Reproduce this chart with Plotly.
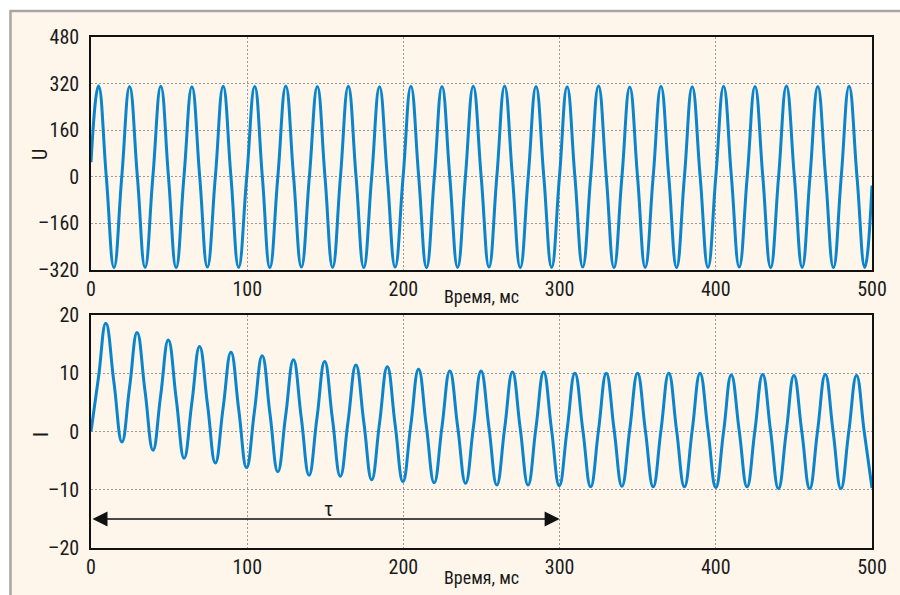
import plotly.graph_objects as go

# ---------------- data ----------------
# Voltage U (top panel): start/end points, peaks, troughs, zero crossings (time in ms)
U_start = (0.0, 50)
U_end = (500.0, -30)
U_peak_t = [4.8, 24.7, 44.7, 64.6, 84.6, 104.8, 124.7, 144.9, 164.7, 184.7, 204.8, 224.7, 244.7,
            264.8, 284.9, 304.8, 324.9, 344.9, 364.9, 384.9, 405.0, 425.1, 445.2, 465.3, 485.3]
U_peak_v = [312, 310, 311, 309, 311, 310, 312, 310, 311, 309, 311, 310, 311,
            312, 310, 309, 312, 308, 311, 309, 311, 310, 312, 310, 311]
U_trough_t = [14.7, 34.6, 54.5, 74.5, 94.5, 114.5, 134.7, 154.7, 174.6, 194.7, 214.8, 234.7, 254.8,
              274.8, 294.9, 314.8, 334.8, 354.8, 374.9, 395.0, 415.0, 435.1, 455.3, 475.3, 495.4]
U_trough_v = [-312, -311, -312, -310, -311, -312, -310, -311, -312, -310, -312, -311, -310,
              -312, -311, -310, -312, -311, -312, -311, -310, -312, -311, -312, -311]
U_cross_t = [9.8, 19.7, 29.7, 39.6, 49.6, 59.5, 69.6, 79.6, 89.6, 99.7,
             109.7, 119.6, 129.7, 139.8, 149.8, 159.7, 169.7, 179.7, 189.7, 199.8,
             209.8, 219.8, 229.7, 239.7, 249.8, 259.8, 269.8, 279.9, 289.9, 299.9,
             309.8, 319.9, 329.9, 339.9, 349.9, 359.9, 369.9, 379.9, 390.0, 400.0,
             410.0, 420.1, 430.1, 440.2, 450.3, 460.3, 470.3, 480.3, 490.4]
U_cross_v = [0] * len(U_cross_t)

# Current I (bottom panel): decaying offset
I_start = (0.0, 0.0)
I_end = (500.0, -9.7)
I_peak_t = [9.5, 29.5, 49.5, 69.5, 89.6, 109.6, 129.6, 149.6, 169.6, 189.7, 209.7, 229.7, 249.7,
            269.8, 289.8, 309.8, 329.9, 349.9, 369.9, 389.9, 409.9, 430.0, 450.0, 470.1, 490.1]
I_peak_v = [18.6, 17.0, 15.7, 14.6, 13.6, 13.0, 12.3, 12.0, 11.4, 11.1, 10.7, 10.4, 10.4,
            10.2, 10.2, 10.0, 10.0, 10.0, 10.0, 10.0, 9.7, 9.8, 9.6, 9.8, 9.6]
I_trough_t = [19.8, 39.7, 59.6, 79.6, 99.6, 119.6, 139.6, 159.6, 179.7, 199.7, 219.7, 239.8,
              259.8, 279.8, 299.8, 319.9, 339.9, 359.9, 379.9, 400.0, 420.0, 440.1, 460.1, 480.1]
I_trough_v = [-1.8, -3.2, -4.6, -5.4, -6.2, -6.9, -7.5, -7.7, -8.3, -8.6, -8.8, -8.9,
              -9.2, -9.2, -9.3, -9.5, -9.4, -9.5, -9.5, -9.6, -9.5, -9.8, -9.8, -9.8]
I_mid_t = [4.8, 14.7, 24.7, 34.6, 44.6, 54.6, 64.6, 74.6, 84.6, 94.6,
           104.6, 114.6, 124.6, 134.6, 144.6, 154.6, 164.6, 174.7, 184.7, 194.7,
           204.7, 214.7, 224.7, 234.8, 244.8, 254.8, 264.8, 274.8, 284.8, 294.8,
           304.8, 314.9, 324.9, 334.9, 344.9, 354.9, 364.9, 374.9, 384.9, 395.0,
           405.0, 415.0, 425.0, 435.1, 445.1, 455.1, 465.1, 475.1, 485.1, 495.0]
I_mid_v = [9.3, 8.4, 7.6, 6.9, 6.2, 5.5, 5.0, 4.6, 4.1, 3.7,
           3.4, 3.0, 2.7, 2.4, 2.2, 2.1, 1.8, 1.5, 1.4, 1.2,
           1.0, 0.9, 0.8, 0.7, 0.7, 0.6, 0.5, 0.5, 0.5, 0.4,
           0.3, 0.2, 0.2, 0.3, 0.3, 0.2, 0.2, 0.2, 0.2, 0.2,
           0.0, 0.1, 0.1, 0.0, -0.1, -0.1, 0.0, 0.0, -0.1, 0.0]

x_ticks = [0, 100, 200, 300, 400, 500]
U_ticks = [-320, -160, 0, 160, 320, 480]
U_ticktext = ["–320", "–160", "0", "160", "320", "480"]
I_ticks = [-20, -10, 0, 10, 20]
I_ticktext = ["–20", "–10", "0", "10", "20"]
tau_span = (0, 300, -15)   # arrow from 0 to 300 ms at I = -15
x_title = "Время, мс"


def merge(start, end, *pairs):
    pts = [start, end]
    for ts, vs in pairs:
        pts += list(zip(ts, vs))
    pts.sort(key=lambda p: p[0])
    return [p[0] for p in pts], [p[1] for p in pts]


U_t, U_v = merge(U_start, U_end, (U_peak_t, U_peak_v), (U_trough_t, U_trough_v), (U_cross_t, U_cross_v))
I_t, I_v = merge(I_start, I_end, (I_peak_t, I_peak_v), (I_trough_t, I_trough_v), (I_mid_t, I_mid_v))

# ---------------- figure ----------------
BLUE = "#0a84cc"
CREAM = "#fef6ea"
FONT = "Roboto Condensed, Liberation Sans Narrow, Arial Narrow, sans-serif"
TXT = "#1a1a1a"

fig = go.Figure()
fig.add_trace(go.Scatter(x=U_t, y=U_v, xaxis="x", yaxis="y", mode="lines",
                         line=dict(color=BLUE, width=3, shape="spline", smoothing=1.3),
                         showlegend=False, hoverinfo="skip"))
fig.add_trace(go.Scatter(x=I_t, y=I_v, xaxis="x2", yaxis="y2", mode="lines",
                         line=dict(color=BLUE, width=3, shape="spline", smoothing=1.3),
                         showlegend=False, hoverinfo="skip"))

L, R, T, B = 91, 28, 37, 47
W, H = 900, 595
PW, PH = W - L - R, H - T - B


def px(x):
    return (x - L) / PW


def py(y):
    return (H - B - y) / PH


axis_common = dict(
    showgrid=True, gridcolor="#9a9a9a", gridwidth=1, griddash="2px,2px",
    showline=True, mirror=True, linecolor="#111111", linewidth=1.6,
    zeroline=False, ticks="", tickfont=dict(family=FONT, size=20, color=TXT),
    fixedrange=True,
)


def label(text, x, y, size, angle=0):
    return dict(text=text, xref="paper", yref="paper", x=x, y=y, showarrow=False,
                xanchor="center", yanchor="middle", textangle=angle,
                font=dict(size=size, family=FONT, color=TXT))


fig.update_layout(
    width=W, height=H, autosize=False,
    margin=dict(l=L, r=R, t=T, b=B),
    paper_bgcolor="white", plot_bgcolor=CREAM,
    font=dict(family=FONT, color=TXT),
    xaxis=dict(axis_common, domain=[0, 1], anchor="y", range=[0, 500], tickvals=x_ticks),
    yaxis=dict(axis_common, domain=[py(270), 1], anchor="x", range=[-320, 480],
               tickvals=U_ticks, ticktext=U_ticktext, ticklabelstandoff=6),
    xaxis2=dict(axis_common, domain=[0, 1], anchor="y2", range=[0, 500], tickvals=x_ticks),
    yaxis2=dict(axis_common, domain=[0, py(315)], anchor="x2", range=[-20, 20],
                tickvals=I_ticks, ticktext=I_ticktext, ticklabelstandoff=6),
    shapes=[
        dict(type="rect", xref="paper", yref="paper", x0=px(10), x1=px(W + 5), y0=py(10), y1=py(H + 5),
             fillcolor=CREAM, line=dict(width=0), layer="below"),
        dict(type="line", xref="paper", yref="paper", x0=px(10), x1=px(W + 5), y0=py(11), y1=py(11),
             line=dict(color="#a6a6a6", width=2.5)),
        dict(type="line", xref="paper", yref="paper", x0=px(10.5), x1=px(10.5), y0=py(10), y1=py(H + 5),
             line=dict(color="#a6a6a6", width=2.5)),
    ],
    annotations=[
        label("U", px(40), py(155), 20, -90),
        label("I", px(41), py(435), 20, -90),
        label(x_title, 0.5, py(296), 18),
        label(x_title, 0.5, py(577), 18),
        dict(text="", xref="x2", yref="y2", x=tau_span[1], y=tau_span[2],
             axref="x2", ayref="y2", ax=tau_span[0], ay=tau_span[2],
             showarrow=True, arrowside="end+start", arrowhead=2, arrowsize=2.0,
             arrowwidth=1.5, arrowcolor="#111111"),
        dict(text="τ", xref="x2", yref="y2", x=152, y=-13.3, showarrow=False,
             xanchor="center", yanchor="middle",
             font=dict(size=20, family=FONT, color=TXT)),
    ],
)

fig.write_html("out.html", config={"displayModeBar": False},
               post_script="document.body.style.margin='0px';document.body.style.overflow='hidden';")
